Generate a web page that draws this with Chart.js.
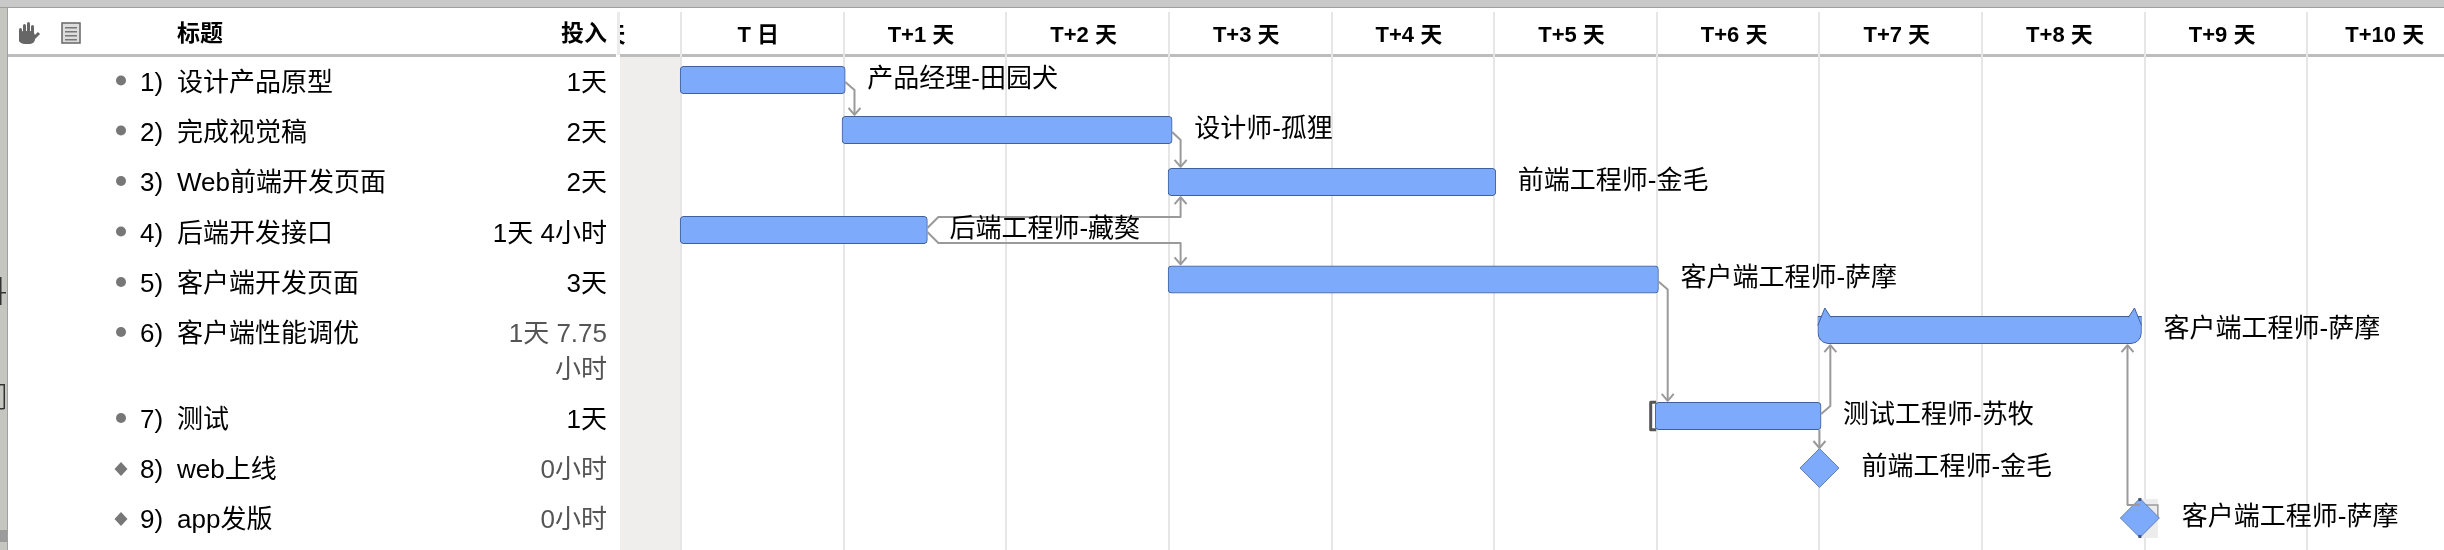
<!DOCTYPE html>
<html><head><meta charset="utf-8">
<style>html,body{margin:0;padding:0;background:#fff}canvas{display:block}</style>
<script src="https://cdn.jsdelivr.net/npm/chart.js@4"></script>
</head><body><canvas id="c" width="2444" height="550"></canvas>
<script>
// ---- data ----
const dayLabels = ['T-1 天','T 日','T+1 天','T+2 天','T+3 天','T+4 天','T+5 天','T+6 天','T+7 天','T+8 天','T+9 天','T+10 天'];
const taskTitles = ['设计产品原型','完成视觉稿','Web前端开发页面','后端开发接口','客户端开发页面','客户端性能调优','测试','web上线','app发版'];
const taskEffort = [['1天'],['2天'],['2天'],['1天 4小时'],['3天'],['1天 7.75','小时'],['1天'],['0小时'],['0小时']];
const effortMuted = [false,false,false,false,false,true,false,true,true];
const taskOwners = ['产品经理-田园犬','设计师-孤狸','前端工程师-金毛','后端工程师-藏獒','客户端工程师-萨摩','客户端工程师-萨摩','测试工程师-苏牧','前端工程师-金毛','客户端工程师-萨摩'];
const taskStart = [-0.005,0.99,2.995,-0.005,2.995,6.99,5.99];
const taskEnd   = [1.01,3.02,5.01,1.515,6.01,8.98,7.01];
const milestoneDay = [7.0,8.97];
const chartRows = [0.5,1.5,2.54,3.5,4.49,5.5,7.22,8.26,9.26];
const tableRows = [0.57,1.57,2.58,3.59,4.6,5.6,7.32,8.32,9.32];
const links = [[0,1,'start'],[1,2,'start'],[3,2,'start'],[3,4,'start'],[4,6,'start'],[6,5,'start'],[6,7,'centre'],[8,5,'end']];
// ---- style ----
const latin = '"Liberation Sans","Noto Sans CJK SC",sans-serif';
const blue='#7eaafc', blueEdge='#40609a', linkGrey='#9a9a9a', gridGrey='#e6e6e6';
const summaryRow=5, selectedBarRow=6, selectedMilestone=8;

const deco = {
  id:'deco',
  afterDraw(ch){
    const {ctx}=ch; ctx.save();
    // left table panel
    ctx.fillStyle='#fff'; ctx.fillRect(0,8,620,542);
    ctx.fillStyle='#ebebeb'; ctx.fillRect(617,12,3,43);
    ctx.fillStyle='#bdbdbd'; ctx.fillRect(8,54,608,3);
    // window chrome
    ctx.fillStyle='#c9c9c9'; ctx.fillRect(0,0,2444,7);
    ctx.fillStyle='#9f9f9f'; ctx.fillRect(0,7,2444,1);
    ctx.fillStyle='#c6c6c0'; ctx.fillRect(0,8,7,542);
    ctx.fillStyle='#a0a0a0'; ctx.fillRect(7,8,1,542);
    ctx.fillStyle='#9c9c9c'; ctx.fillRect(0,530,7,12);
    ctx.fillStyle='#333';
    ctx.fillRect(0,277,1.5,28); ctx.fillRect(0,292,6,1.5);
    ctx.fillRect(0,384,5,1.5); ctx.fillRect(3.5,384,1.5,25); ctx.fillRect(0,408,4,1.5);
    // hand icon
    ctx.fillStyle='#666';
    ctx.beginPath(); ctx.roundRect(19,31,16,13,5); ctx.fill();
    [[19,28],[23,24],[27,22],[31,25]].forEach(([fx,fy])=>{ctx.beginPath();ctx.roundRect(fx,fy,3,14,1.5);ctx.fill();});
    ctx.strokeStyle='#666'; ctx.lineWidth=3; ctx.beginPath(); ctx.moveTo(32,40); ctx.lineTo(39,33); ctx.stroke();
    // notes icon
    ctx.fillStyle='#ddd'; ctx.strokeStyle='#666'; ctx.lineWidth=1.5;
    ctx.fillRect(62,23,18,20); ctx.strokeRect(62,23,18,20);
    ctx.fillStyle='#777'; [28,32,36,40].forEach(yy=>ctx.fillRect(65,yy-1,12,1.5));
    // header text
    ctx.fillStyle='#000'; ctx.textBaseline='middle';
    ctx.font='bold 23px '+latin;
    ctx.textAlign='left'; ctx.fillText('标题',177,35);
    ctx.textAlign='right'; ctx.fillText('投入',607,35);
    // rows
    const y=ch.scales.y;
    taskTitles.forEach((t,i)=>{
      const py=y.getPixelForValue(tableRows[i]);
      ctx.fillStyle='#777';
      if(i<7){ctx.beginPath();ctx.arc(121,py-3,5,0,Math.PI*2);ctx.fill();}
      else{ctx.beginPath();ctx.moveTo(114.5,py-2);ctx.lineTo(121,py-9);ctx.lineTo(127.5,py-2);ctx.lineTo(121,py+5);ctx.closePath();ctx.fill();}
      ctx.fillStyle='#000'; ctx.textAlign='left'; ctx.font='26px '+latin;
      ctx.fillText((i+1)+')',140,py); ctx.fillText(t,177,py);
      ctx.textAlign='right'; ctx.fillStyle=effortMuted[i]?'#555':'#000';
      taskEffort[i].forEach((s,k)=>ctx.fillText(s,607,py+k*36));
    });
    ctx.restore();
  },
  afterDatasetsDraw(ch){
    const {ctx,scales:{x,y}}=ch;
    const half=13.7;
    const isMs=i=>i>=taskStart.length;
    const startPx=i=>isMs(i)?x.getPixelForValue(milestoneDay[i-taskStart.length]):x.getPixelForValue(taskStart[i]);
    const endPx=i=>isMs(i)?x.getPixelForValue(milestoneDay[i-taskStart.length]):x.getPixelForValue(taskEnd[i]);
    ctx.save();
    ctx.strokeStyle=linkGrey; ctx.lineWidth=2; ctx.lineJoin='round';
    const arrow=(ax,ay,dir)=>{ctx.beginPath();ctx.moveTo(ax-6,ay-dir*7);ctx.lineTo(ax,ay);ctx.lineTo(ax+6,ay-dir*7);ctx.stroke();};
    links.forEach(([a,b,kind])=>{
      const ya=y.getPixelForValue(chartRows[a]), yb=y.getPixelForValue(chartRows[b]);
      const dir=yb>ya?1:-1;
      const tx= kind==='start'?startPx(b)+12.5 : kind==='end'?endPx(b)-14 : startPx(b);
      const tip= yb-dir*(half+1.5);
      ctx.beginPath();
      if(kind==='centre'){ ctx.moveTo(tx,ya+half); ctx.lineTo(tx,yb-20); ctx.stroke(); arrow(tx,yb-20,1); return; }
      if(isMs(a)){ ctx.moveTo(endPx(a),ya-13); ctx.lineTo(tx,ya-13); ctx.lineTo(tx,tip); ctx.stroke(); arrow(tx,tip,dir); return; }
      const sx=endPx(a);
      const dy=(a===3)?(dir*13):(dir*10);
      ctx.moveTo(sx,ya+dir*2); ctx.lineTo(a===3?sx+11:tx,ya+dy);
      if(a===3) ctx.lineTo(tx,ya+dy);
      ctx.lineTo(tx,tip); ctx.stroke(); arrow(tx,tip,dir);
    });
    // summary bar ears
    const sy=y.getPixelForValue(chartRows[summaryRow]);
    const sL=startPx(summaryRow), sR=endPx(summaryRow);
    ctx.fillStyle=blue; ctx.strokeStyle=blueEdge; ctx.lineWidth=1;
    [[sL,sL+7,sL+13],[sR-13,sR-7,sR]].forEach(([p,q,r])=>{
      const yp=sy-half+(p===sL?9:1), yr=sy-half+(r===sR?9:1);
      ctx.beginPath();ctx.moveTo(p,yp);ctx.lineTo(q,sy-22);ctx.lineTo(r,yr);
      if(p===sL) ctx.lineTo(p,yr); else ctx.lineTo(r,yp);
      ctx.closePath();ctx.fill();
      ctx.beginPath();ctx.moveTo(p,yp);ctx.lineTo(q,sy-22);ctx.lineTo(r,yr);ctx.stroke();
    });
    // selection handles
    const by=y.getPixelForValue(chartRows[selectedBarRow]), bs=startPx(selectedBarRow);
    ctx.strokeStyle='#555'; ctx.lineWidth=3;
    ctx.beginPath();ctx.moveTo(bs+1,by-half);ctx.lineTo(bs-4.5,by-half);ctx.lineTo(bs-4.5,by+half);ctx.lineTo(bs+1,by+half);ctx.stroke();
    const mx=x.getPixelForValue(milestoneDay[1]), my=y.getPixelForValue(chartRows[selectedMilestone]);
    ctx.fillStyle='#40557e'; ctx.fillRect(mx-1.5,my-20,3,3); ctx.fillRect(mx-1.5,my+17,3,3);
    // owner labels
    ctx.fillStyle='#000'; ctx.font='26px '+latin; ctx.textAlign='left'; ctx.textBaseline='middle';
    taskOwners.forEach((t,i)=>{
      const py=y.getPixelForValue(chartRows[i])-0.5;
      const px=isMs(i)?endPx(i)+42:endPx(i)+22;
      ctx.fillText(t,px,py);
    });
    ctx.restore();
  }
};

const band = {
  id:'band',
  beforeDraw(ch){
    const {ctx,chartArea:a,scales:{x}}=ch;
    ctx.save();
    ctx.fillStyle='#f0eeec';
    ctx.fillRect(a.left,56,x.getPixelForValue(0)-a.left,550-56);
    ctx.fillStyle='#bdbdbd'; ctx.fillRect(a.left,54,a.right-a.left,3);
    ctx.restore();
  },
  beforeDatasetsDraw(ch){
    const {ctx,scales:{x,y}}=ch;
    const mx=x.getPixelForValue(milestoneDay[1]), my=y.getPixelForValue(chartRows[selectedMilestone]);
    ctx.save();
    ctx.fillStyle='#ececec'; ctx.fillRect(mx,my-19,18,39);
    ctx.strokeStyle='#9a9a9a'; ctx.lineWidth=1.5; ctx.strokeRect(mx,my-13,18,13);
    ctx.restore();
  }
};

new Chart(document.getElementById('c'),{
  data:{datasets:[
    {type:'bar',indexAxis:'y',
     data:taskStart.map((s,i)=>({x:[s,taskEnd[i]],y:chartRows[i]})),
     backgroundColor:blue,borderColor:blueEdge,borderWidth:1,borderSkipped:false,
     borderRadius:c=>c.dataIndex===summaryRow?{topLeft:0,topRight:0,bottomLeft:11,bottomRight:11}:4,
     barThickness:27.5},
    {type:'scatter',clip:false,
     data:milestoneDay.map((d,i)=>({x:d,y:chartRows[taskStart.length+i]})),
     pointStyle:'rectRot',pointRadius:19.5,pointBackgroundColor:blue,pointBorderColor:'#5f7fb5',pointBorderWidth:1}
  ]},
  plugins:[band,deco],
  options:{
    responsive:false,animation:false,
    layout:{autoPadding:false,padding:{left:620,right:0,top:0,bottom:0}},
    plugins:{legend:{display:false},tooltip:{enabled:false}},
    scales:{
      x:{type:'linear',position:'top',min:-0.375,max:10.84,
        afterBuildTicks(s){s.ticks=dayLabels.flatMap((_,i)=>[{value:i-0.5},{value:i}]).filter(t=>t.value<=10.84);},
        afterFit(s){s.height=55;s.paddingLeft=0;s.paddingRight=0;s.paddingTop=0;s.paddingBottom=0;},
        border:{display:false},
        grid:{color:c=>Number.isInteger(c.tick&&c.tick.value)?gridGrey:'rgba(0,0,0,0)',lineWidth:2,drawTicks:true,tickLength:43,
              tickColor:c=>Number.isInteger(c.tick&&c.tick.value)?gridGrey:'rgba(0,0,0,0)'},
        ticks:{autoSkip:false,maxRotation:0,minRotation:0,padding:-37,labelOffset:-4,color:'#000',font:{family:latin,size:22,weight:'bold'},
          callback:v=>Number.isInteger(v)?'':dayLabels[v+0.5]}
      },
      y:{type:'linear',reverse:true,min:0,max:9.9,offset:false,display:false,grid:{offset:false}}
    }
  }
});
</script></body></html>
